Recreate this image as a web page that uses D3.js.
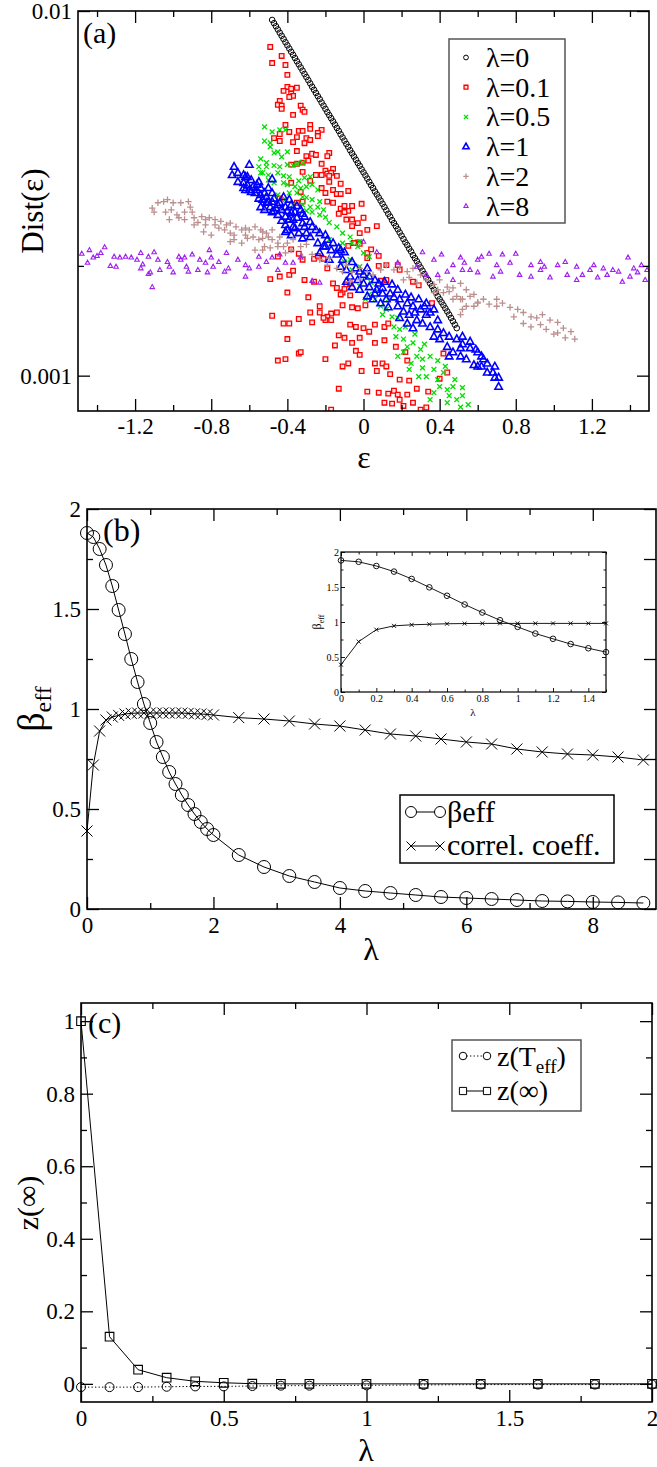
<!DOCTYPE html>
<html>
<head>
<meta charset="utf-8">
<script src="https://cdn.jsdelivr.net/npm/d3@7"></script>
<style>
  html, body { margin: 0; padding: 0; background: #fff; }
  svg { display: block; }
  svg text { font-family: "Liberation Serif", "Times New Roman", Times, serif !important; }
</style>
</head>
<body>
<script>
// ---------------- Panel (a): Dist(eps) scatter for several lambda ----------------
const lam0Eps = [-0.48,-0.47,-0.46,-0.45,-0.44,-0.43,-0.42,-0.41,-0.40,-0.39,
  -0.38,-0.37,-0.36,-0.35,-0.34,-0.33,-0.32,-0.31,-0.30,-0.29,
  -0.28,-0.27,-0.26,-0.25,-0.24,-0.23,-0.22,-0.21,-0.20,-0.19,
  -0.18,-0.17,-0.16,-0.15,-0.14,-0.13,-0.12,-0.11,-0.10,-0.09,
  -0.08,-0.07,-0.06,-0.05,-0.04,-0.03,-0.02,-0.01,0.00,0.01,
  0.02,0.03,0.04,0.05,0.06,0.07,0.08,0.09,0.10,0.11,
  0.12,0.13,0.14,0.15,0.16,0.17,0.18,0.19,0.20,0.21,
  0.22,0.23,0.24,0.25,0.26,0.27,0.28,0.29,0.30,0.31,
  0.32,0.33,0.34,0.35,0.36,0.37,0.38,0.39,0.40,0.41,
  0.42,0.43,0.44,0.45,0.46,0.47,0.48,0.49];
const lam0Dist = [0.00945,0.00926,0.00908,0.00890,0.00872,0.00855,0.00838,0.00821,0.00805,0.00789,
  0.00773,0.00758,0.00743,0.00728,0.00714,0.00700,0.00686,0.00672,0.00659,0.00646,
  0.00633,0.00620,0.00608,0.00596,0.00584,0.00573,0.00561,0.00550,0.00539,0.00528,
  0.00518,0.00508,0.00498,0.00488,0.00478,0.00469,0.00459,0.00450,0.00441,0.00432,
  0.00424,0.00415,0.00407,0.00399,0.00391,0.00383,0.00376,0.00368,0.00361,0.00354,
  0.00347,0.00340,0.00333,0.00327,0.00320,0.00314,0.00308,0.00302,0.00296,0.00290,
  0.00284,0.00278,0.00273,0.00267,0.00262,0.00257,0.00252,0.00247,0.00242,0.00237,
  0.00232,0.00228,0.00223,0.00219,0.00214,0.00210,0.00206,0.00202,0.00198,0.00194,
  0.00190,0.00186,0.00183,0.00179,0.00176,0.00172,0.00169,0.00165,0.00162,0.00159,
  0.00156,0.00153,0.00150,0.00147,0.00144,0.00141,0.00138,0.00135];

const lam01 = [[-0.49,0.00797],[-0.43,0.00753],[-0.48,0.00720],[-0.41,0.00711],[-0.40,0.00668],[-0.40,0.00619],[-0.38,0.00612],[-0.35,0.00616],[-0.42,0.00604],[-0.38,0.00593],[-0.37,0.00585],[-0.39,0.00581],[-0.44,0.00567],[-0.45,0.00553],[-0.43,0.00550],[-0.43,0.00539],[-0.33,0.00550],[-0.32,0.00536],[-0.31,0.00529],[-0.37,0.00519],[-0.41,0.00487],[-0.28,0.00487],[-0.28,0.00475],[-0.34,0.00469],[-0.32,0.00469],[-0.22,0.00472],[-0.44,0.00460],[-0.35,0.00451],[-0.47,0.00448],[-0.39,0.00466],[-0.24,0.00463],[-0.24,0.00454],[-0.30,0.00448],[-0.28,0.00443],[-0.37,0.00437],[-0.31,0.00434],[-0.35,0.00413],[-0.27,0.00406],[-0.25,0.00403],[-0.30,0.00400],[-0.29,0.00389],[-0.18,0.00408],[-0.19,0.00400],[-0.22,0.00381],[-0.32,0.00384],[-0.35,0.00381],[-0.38,0.00379],[-0.32,0.00362],[-0.16,0.00369],[-0.20,0.00365],[-0.19,0.00358],[-0.17,0.00360],[-0.14,0.00353],[-0.18,0.00353],[-0.25,0.00355],[-0.22,0.00355],[-0.28,0.00342],[-0.12,0.00336],[-0.18,0.00340],[-0.22,0.00327],[-0.16,0.00323],[-0.14,0.00315],[-0.12,0.00315],[-0.08,0.00321],[-0.20,0.00317],[-0.19,0.00300],[-0.16,0.00298],[-0.12,0.00287],[-0.10,0.00292],[-0.08,0.00283],[-0.10,0.00281],[-0.01,0.00296],[-0.33,0.00319],[-0.32,0.00300],[-0.35,0.00298],[-0.44,0.00306],[-0.06,0.00292],[-0.13,0.00278],[-0.09,0.00268],[-0.06,0.00268],[-0.03,0.00262],[-0.06,0.00257],[0.00,0.00271],[0.02,0.00251],[0.07,0.00257],[-0.02,0.00246],[-0.03,0.00232],[-0.02,0.00230],[-0.05,0.00231],[-0.08,0.00227],[0.02,0.00217],[0.04,0.00222],[0.08,0.00213],[0.12,0.00201],[0.08,0.00200],[0.02,0.00210],[-0.38,0.00222],[-0.34,0.00216],[-0.32,0.00208],[-0.26,0.00209],[-0.24,0.00213],[-0.21,0.00209],[-0.19,0.00197],[-0.49,0.00184],[-0.44,0.00187],[-0.39,0.00189],[-0.37,0.00194],[-0.31,0.00183],[-0.26,0.00181],[-0.16,0.00179],[-0.14,0.00174],[-0.09,0.00178],[-0.11,0.00169],[-0.07,0.00166],[-0.12,0.00167],[-0.10,0.00173],[-0.07,0.00179],[0.18,0.00201],[0.19,0.00195],[0.26,0.00181],[0.29,0.00177],[0.36,0.00158],[0.09,0.00182],[0.12,0.00183],[-0.40,0.00169],[-0.29,0.00164],[-0.23,0.00155],[-0.28,0.00149],[-0.17,0.00148],[-0.19,0.00145],[-0.17,0.00142],[-0.14,0.00149],[-0.11,0.00156],[-0.06,0.00154],[-0.03,0.00153],[0.01,0.00156],[-0.48,0.00146],[-0.42,0.00139],[-0.39,0.00139],[-0.34,0.00143],[-0.27,0.00140],[-0.20,0.00142],[-0.07,0.00138],[-0.04,0.00136],[0.00,0.00135],[0.03,0.00132],[0.06,0.00138],[0.11,0.00136],[0.13,0.00139],[-0.13,0.00129],[-0.10,0.00127],[-0.15,0.00121],[-0.02,0.00127],[-0.06,0.00123],[-0.04,0.00117],[-0.02,0.00114],[0.06,0.00123],[0.11,0.00125],[0.17,0.00120],[0.22,0.00116],[0.23,0.00110],[-0.40,0.00126],[-0.34,0.00115],[-0.33,0.00116],[-0.45,0.00110],[-0.41,0.00111],[-0.20,0.00111],[-0.11,0.00106],[-0.08,0.00108],[-0.01,0.00103],[0.06,0.00108],[0.07,0.00103],[0.10,0.00108],[0.12,0.00106],[0.14,0.00101],[0.19,0.000975],[-0.13,0.000921],[0.02,0.000904],[0.08,0.000898],[0.13,0.000893],[0.16,0.000909],[0.18,0.000887],[0.19,0.000859],[0.11,0.000843],[0.15,0.000838],[0.23,0.000887],[0.28,0.000921],[0.24,0.000969],[-0.17,0.000807],[0.33,0.000818],[0.34,0.000904],[0.40,0.000981],[0.42,0.00115],[0.44,0.00102],[-0.45,0.00212],[0.21,0.000826],[0.26,0.000843],[0.30,0.000807],[-0.23,0.00149],[-0.21,0.00144],[-0.44,0.00440],[-0.38,0.00338]];

const lam05 = [[-0.52,0.00481],[-0.48,0.00466],[-0.44,0.00472],[-0.41,0.00472],[-0.52,0.00440],[-0.49,0.00435],[-0.49,0.00424],[-0.47,0.00408],[-0.43,0.00398],[-0.40,0.00411],[-0.45,0.00411],[-0.54,0.00393],[-0.51,0.00384],[-0.55,0.00374],[-0.51,0.00374],[-0.47,0.00377],[-0.44,0.00374],[-0.40,0.00379],[-0.37,0.00377],[-0.35,0.00381],[-0.32,0.00384],[-0.53,0.00360],[-0.50,0.00355],[-0.45,0.00360],[-0.42,0.00353],[-0.39,0.00351],[-0.34,0.00342],[-0.31,0.00349],[-0.28,0.00351],[-0.42,0.00338],[-0.40,0.00334],[-0.36,0.00330],[-0.33,0.00327],[-0.30,0.00330],[-0.27,0.00334],[-0.24,0.00323],[-0.39,0.00317],[-0.35,0.00317],[-0.32,0.00309],[-0.30,0.00308],[-0.27,0.00304],[-0.23,0.00300],[-0.37,0.00294],[-0.32,0.00294],[-0.28,0.00290],[-0.24,0.00290],[-0.21,0.00285],[-0.30,0.00283],[-0.27,0.00281],[-0.23,0.00276],[-0.50,0.00344],[-0.47,0.00338],[-0.45,0.00313],[-0.41,0.00304],[-0.54,0.00360],[-0.20,0.00272],[-0.18,0.00263],[-0.14,0.00256],[-0.11,0.00246],[-0.07,0.00240],[-0.11,0.00231],[-0.06,0.00231],[-0.03,0.00226],[-0.02,0.00233],[0.00,0.00217],[0.03,0.00212],[-0.07,0.00208],[-0.02,0.00199],[0.02,0.00187],[-0.02,0.00176],[0.03,0.00167],[0.06,0.00162],[0.09,0.00155],[0.12,0.00152],[0.10,0.00147],[0.15,0.00145],[0.16,0.00136],[0.19,0.00134],[0.17,0.00128],[0.21,0.00126],[0.23,0.00120],[0.26,0.00123],[0.30,0.00118],[0.28,0.00113],[0.31,0.00111],[0.35,0.00113],[0.25,0.00108],[0.31,0.00105],[0.37,0.00104],[0.33,0.000994],[0.39,0.000975],[0.42,0.00102],[0.40,0.000933],[0.44,0.000915],[0.47,0.000933],[0.45,0.000881],[0.49,0.000859],[0.52,0.000881],[0.51,0.000820],[0.55,0.000833],[0.37,0.000898],[0.35,0.000859],[0.21,0.00116],[0.18,0.00113],[0.24,0.00104],[0.29,0.000994],[0.44,0.000843],[-0.18,0.00236],[-0.13,0.00221],[-0.10,0.00205],[-0.06,0.00195],[0.04,0.00180],[0.08,0.00170],[0.01,0.00162],[0.13,0.00162],[0.18,0.00144],[0.22,0.00136],[0.27,0.00130],[0.32,0.00122],[0.39,0.00110],[0.43,0.00106],[0.48,0.000975],[0.52,0.000927]];

const lam1 = [[-0.68,0.00374],[-0.60,0.00379],[-0.69,0.00355],[-0.66,0.00360],[-0.63,0.00355],[-0.62,0.00351],[-0.59,0.00344],[-0.66,0.00340],[-0.63,0.00338],[-0.61,0.00334],[-0.58,0.00330],[-0.55,0.00340],[-0.62,0.00323],[-0.59,0.00319],[-0.56,0.00323],[-0.54,0.00327],[-0.52,0.00317],[-0.50,0.00327],[-0.48,0.00317],[-0.55,0.00306],[-0.53,0.00304],[-0.50,0.00300],[-0.47,0.00306],[-0.44,0.00298],[-0.42,0.00309],[-0.39,0.00304],[-0.54,0.00290],[-0.49,0.00290],[-0.46,0.00288],[-0.43,0.00285],[-0.41,0.00290],[-0.38,0.00294],[-0.45,0.00276],[-0.41,0.00273],[-0.38,0.00280],[-0.43,0.00266],[-0.41,0.00259],[-0.37,0.00268],[-0.36,0.00254],[-0.38,0.00243],[-0.41,0.00248],[-0.61,0.00351],[-0.56,0.00334],[-0.63,0.00327],[-0.60,0.00323],[-0.57,0.00317],[-0.54,0.00313],[-0.51,0.00309],[-0.48,0.00300],[-0.45,0.00294],[-0.40,0.00283],[-0.36,0.00281],[-0.33,0.00285],[-0.31,0.00273],[-0.48,0.00281],[-0.48,0.00346],[-0.51,0.00298],[-0.52,0.00285],[-0.47,0.00283],[-0.39,0.00268],[-0.35,0.00271],[-0.32,0.00262],[-0.31,0.00256],[-0.37,0.00256],[-0.40,0.00251],[-0.34,0.00246],[-0.30,0.00246],[-0.32,0.00238],[-0.27,0.00256],[-0.23,0.00246],[-0.19,0.00236],[-0.21,0.00226],[-0.17,0.00221],[-0.14,0.00215],[-0.11,0.00208],[-0.18,0.00208],[-0.12,0.00199],[-0.09,0.00195],[-0.23,0.00217],[-0.24,0.00231],[-0.28,0.00240],[-0.07,0.00187],[-0.03,0.00183],[0.00,0.00179],[0.03,0.00175],[0.07,0.00172],[0.10,0.00168],[-0.02,0.00172],[0.02,0.00165],[0.05,0.00162],[0.09,0.00158],[0.12,0.00162],[-0.06,0.00175],[-0.09,0.00181],[-0.02,0.00193],[0.03,0.00187],[0.08,0.00179],[0.10,0.00174],[0.14,0.00168],[0.16,0.00164],[0.19,0.00162],[0.23,0.00158],[0.26,0.00155],[0.30,0.00152],[0.33,0.00147],[0.18,0.00155],[0.21,0.00150],[0.24,0.00147],[0.28,0.00142],[0.31,0.00139],[0.35,0.00136],[0.23,0.00139],[0.26,0.00135],[0.19,0.00144],[0.33,0.00158],[0.37,0.00152],[0.39,0.00142],[0.39,0.00134],[0.42,0.00131],[0.45,0.00128],[0.49,0.00126],[0.52,0.00122],[0.56,0.00119],[0.60,0.00116],[0.44,0.00120],[0.47,0.00116],[0.51,0.00113],[0.54,0.00111],[0.58,0.00107],[0.60,0.00106],[0.40,0.00126],[0.37,0.00128],[0.51,0.00119],[0.45,0.00113],[0.52,0.00128],[0.56,0.00124],[0.59,0.00118],[0.62,0.00113],[0.65,0.00108],[0.68,0.00102],[0.69,0.000988],[0.71,0.000933],[0.65,0.00102],[0.62,0.00106],[0.63,0.00111],[0.69,0.00106],[0.71,0.000988],[-0.28,0.00264],[-0.25,0.00251],[-0.20,0.00243],[-0.16,0.00231],[-0.13,0.00224],[-0.10,0.00218],[-0.06,0.00205],[-0.04,0.00197],[0.00,0.00189],[0.02,0.00197],[0.06,0.00183],[0.11,0.00181],[0.15,0.00178],[0.18,0.00172],[0.22,0.00167],[0.25,0.00164],[0.29,0.00162],[0.32,0.00155],[0.35,0.00149],[0.27,0.00149],[0.13,0.00154],[0.06,0.00168],[-0.12,0.00221],[-0.20,0.00226],[-0.32,0.00278],[-0.35,0.00292]];

const lam2 = [[-1.11,0.00288],[-1.08,0.00298],[-1.05,0.00300],[-1.03,0.00304],[-1.00,0.00298],[-0.96,0.00298],[-0.92,0.00300],[-0.91,0.00290],[-1.10,0.00281],[-1.04,0.00281],[-1.01,0.00285],[-0.98,0.00276],[-0.94,0.00281],[-0.90,0.00281],[-1.02,0.00268],[-0.97,0.00271],[-0.94,0.00268],[-0.89,0.00271],[-0.85,0.00273],[-0.83,0.00268],[-0.81,0.00271],[-0.78,0.00268],[-0.87,0.00263],[-0.83,0.00259],[-0.78,0.00259],[-0.75,0.00265],[-0.72,0.00259],[-0.70,0.00262],[-0.67,0.00256],[-0.64,0.00251],[-0.62,0.00254],[-0.60,0.00251],[-0.57,0.00256],[-0.54,0.00251],[-0.73,0.00251],[-0.70,0.00246],[-0.68,0.00243],[-0.62,0.00243],[-0.61,0.00238],[-0.58,0.00240],[-0.55,0.00236],[-0.53,0.00238],[-0.50,0.00240],[-0.48,0.00236],[-0.45,0.00231],[-0.42,0.00226],[-0.52,0.00226],[-0.49,0.00224],[-0.57,0.00221],[-0.41,0.00217],[-0.68,0.00236],[-0.80,0.00243],[-0.84,0.00248],[-0.89,0.00259],[-0.76,0.00254],[-0.70,0.00233],[-0.64,0.00231],[-0.53,0.00248],[-0.51,0.00246],[-0.48,0.00251],[-0.44,0.00240],[-0.53,0.00221],[-0.45,0.00226],[-0.40,0.00231],[-0.37,0.00236],[-0.38,0.00221],[-0.33,0.00226],[-0.30,0.00229],[-0.27,0.00215],[-0.32,0.00212],[-0.23,0.00208],[-0.18,0.00210],[-0.19,0.00201],[-0.14,0.00197],[-0.11,0.00193],[-0.09,0.00201],[-0.06,0.00192],[-0.02,0.00197],[0.02,0.00193],[0.05,0.00189],[-0.07,0.00181],[-0.02,0.00183],[0.09,0.00195],[0.12,0.00201],[0.16,0.00195],[0.19,0.00199],[0.23,0.00193],[0.26,0.00197],[0.30,0.00189],[0.33,0.00183],[0.37,0.00178],[0.40,0.00183],[0.44,0.00175],[0.47,0.00174],[0.51,0.00179],[0.54,0.00172],[0.58,0.00167],[0.60,0.00158],[0.51,0.00162],[0.54,0.00155],[0.47,0.00162],[0.37,0.00169],[0.28,0.00180],[0.21,0.00183],[0.24,0.00186],[0.39,0.00172],[0.42,0.00169],[0.45,0.00170],[0.49,0.00165],[0.52,0.00162],[0.56,0.00165],[0.60,0.00159],[0.63,0.00162],[0.66,0.00157],[0.70,0.00155],[0.73,0.00158],[0.77,0.00154],[0.81,0.00152],[0.84,0.00149],[0.88,0.00145],[0.91,0.00144],[0.94,0.00147],[0.98,0.00142],[1.02,0.00140],[1.05,0.00135],[1.09,0.00132],[0.93,0.00138],[0.96,0.00134],[1.00,0.00130],[0.88,0.00136],[0.84,0.00139],[0.52,0.00152],[0.58,0.00155],[0.70,0.00162],[0.79,0.00145],[0.51,0.00147],[1.06,0.00127],[1.11,0.00126],[1.02,0.00131]];

const lam8 = [[-1.48,0.00216],[-1.44,0.00221],[-1.40,0.00213],[-1.38,0.00217],[-1.36,0.00225],[-1.45,0.00204],[-1.42,0.00211],[-1.33,0.00200],[-1.31,0.00212],[-1.28,0.00211],[-1.25,0.00212],[-1.30,0.00199],[-1.22,0.00211],[-1.19,0.00208],[-1.17,0.00217],[-1.16,0.00202],[-1.17,0.00197],[-1.13,0.00212],[-1.12,0.00192],[-1.10,0.00218],[-1.08,0.00208],[-1.07,0.00195],[-1.11,0.00175],[-1.03,0.00205],[-1.02,0.00199],[-1.00,0.00192],[-0.97,0.00212],[-0.96,0.00208],[-0.94,0.00211],[-0.93,0.00199],[-0.92,0.00193],[-0.90,0.00215],[-0.87,0.00195],[-0.86,0.00208],[-0.83,0.00204],[-0.82,0.00192],[-0.81,0.00221],[-0.80,0.00211],[-0.79,0.00199],[-0.76,0.00205],[-0.73,0.00193],[-0.72,0.00217],[-0.71,0.00197],[-0.66,0.00208],[-0.62,0.00201],[-0.62,0.00187],[-0.60,0.00197],[-0.55,0.00212],[-0.55,0.00199],[-0.51,0.00205],[-0.48,0.00211],[-0.45,0.00195],[-0.44,0.00215],[-0.41,0.00204],[-0.37,0.00204],[-0.33,0.00211],[-0.27,0.00182],[-0.23,0.00180],[0.00,0.00233],[0.07,0.00218],[0.18,0.00204],[0.28,0.00199],[0.31,0.00218],[0.33,0.00189],[0.37,0.00208],[0.41,0.00215],[0.44,0.00193],[0.47,0.00201],[0.51,0.00211],[0.52,0.00195],[0.53,0.00204],[0.60,0.00208],[0.62,0.00212],[0.66,0.00216],[0.73,0.00215],[0.80,0.00216],[0.70,0.00201],[0.77,0.00204],[0.88,0.00201],[0.93,0.00205],[0.95,0.00199],[1.02,0.00201],[1.06,0.00205],[1.12,0.00199],[1.21,0.00201],[1.26,0.00197],[1.31,0.00195],[1.34,0.00193],[1.39,0.00211],[1.42,0.00197],[1.46,0.00201],[1.49,0.00195],[0.47,0.00183],[0.60,0.00192],[0.68,0.00187],[0.72,0.00193],[0.82,0.00189],[0.88,0.00187],[0.93,0.00195],[0.98,0.00186],[1.07,0.00189],[1.12,0.00183],[1.15,0.00189],[1.19,0.00195],[1.23,0.00186],[1.28,0.00189],[1.36,0.00181],[1.40,0.00187],[1.44,0.00192],[1.48,0.00183],[0.39,0.00189],[0.56,0.00195],[-1.13,0.00190]];

const legendA = ["λ=0", "λ=0.1", "λ=0.5", "λ=1", "λ=2", "λ=8"];
const epsTicks = [-1.2, -0.8, -0.4, 0, 0.4, 0.8, 1.2];
const epsMinor = [-1.4, -1.0, -0.6, -0.2, 0.2, 0.6, 1.0, 1.4];
const distTicks = [0.001, 0.01];
const distMinor = [0.002];

// ---------------- Panel (b): beta_eff and correlation coefficient vs lambda ----------------
const lambdaB = [0,0.1,0.2,0.3,0.4,0.5,0.6,0.7,0.8,0.9,1.0,1.1,1.2,1.3,1.4,1.5,1.6,1.7,1.8,1.9,2.0,
  2.4,2.8,3.2,3.6,4.0,4.4,4.8,5.2,5.6,6.0,6.4,6.8,7.2,7.6,8.0,8.4,8.8];
const betaEff = [1.88,1.86,1.80,1.72,1.615,1.495,1.375,1.25,1.135,1.025,0.93,0.835,0.76,0.685,0.625,0.57,0.52,0.475,0.435,0.40,0.37,
  0.27,0.21,0.165,0.135,0.105,0.09,0.08,0.07,0.06,0.055,0.05,0.045,0.04,0.038,0.035,0.033,0.03];
const correlCoeff = [0.39,0.72,0.89,0.945,0.96,0.968,0.975,0.978,0.98,0.98,0.98,0.98,0.98,0.98,0.98,0.98,0.978,0.976,0.975,0.973,0.97,
  0.957,0.95,0.94,0.925,0.915,0.895,0.875,0.865,0.85,0.835,0.825,0.80,0.785,0.775,0.77,0.76,0.745];
const lamTicksB = [0, 2, 4, 6, 8];
const lamMinorB = [1, 3, 5, 7];
const betaTicks = [0, 0.5, 1, 1.5, 2];
const betaMinor = [0.25, 0.75, 1.25, 1.75];
// inset: the first part of the same series (lambda <= 1.5)
const insetCount = 16;
const insetLamTicks = [0, 0.2, 0.4, 0.6, 0.8, 1, 1.2, 1.4];
const insetLamMinor = [0.1, 0.3, 0.5, 0.7, 0.9, 1.1, 1.3, 1.5];
const insetBetaTicks = [0, 0.5, 1, 1.5, 2];
const insetBetaMinor = [0.25, 0.75, 1.25, 1.75];

// ---------------- Panel (c): z(T_eff) and z(inf) vs lambda ----------------
const lambdaC = [0,0.1,0.2,0.3,0.4,0.5,0.6,0.7,0.8,1.0,1.2,1.4,1.6,1.8,2.0];
const zTeff = [-0.009,-0.009,-0.009,-0.008,-0.007,-0.007,-0.006,-0.005,-0.005,-0.004,-0.003,-0.002,-0.002,-0.002,-0.002];
const zInf = [1.0,0.13,0.039,0.017,0.007,0.003,0.0005,0.0,0.0,0.0,0.0,0.0,0.0,0.0,0.0];
const lamTicksC = [0, 0.5, 1, 1.5, 2];
const lamMinorC = [0.25, 0.75, 1.25, 1.75];
const zTicks = [0, 0.2, 0.4, 0.6, 0.8, 1];
const zMinor = [0.1, 0.3, 0.5, 0.7, 0.9];

// ---------------- drawing ----------------
const W = 657, H = 1467;
const FONT = "Liberation Serif, Times New Roman, Times, serif";
const svg = d3.select("body").append("svg").attr("width", W).attr("height", H)
  .attr("font-family", FONT);
svg.append("rect").attr("width", W).attr("height", H).attr("fill", "#fff");

function addAxis(g, gen, tr, values, len, fmt, pad, fs, sw) {
  const a = gen.tickValues(values).tickSizeInner(-len).tickSizeOuter(0)
    .tickPadding(pad).tickFormat(fmt || (() => ""));
  const s = g.append("g").attr("transform", tr).call(a);
  s.attr("font-family", FONT).attr("font-size", fs || 10);
  s.select(".domain").remove();
  s.selectAll("line").attr("stroke", "#000").attr("stroke-width", sw || 1.3);
  s.selectAll("text").attr("fill", "#000");
  return s;
}

function frameAxes(g, x, y, o) {
  const [x0, x1] = x.range();
  const [yb, yt] = y.range();
  const fs = o.fs, maj = o.maj, mn = o.min, sw = o.sw;
  addAxis(g, d3.axisBottom(x), `translate(0,${yb})`, o.xMaj, maj, o.xFmt, o.padX, fs, sw);
  addAxis(g, d3.axisBottom(x), `translate(0,${yb})`, o.xMin, mn, null, 0, fs, sw);
  addAxis(g, d3.axisTop(x), `translate(0,${yt})`, o.xMaj, maj, null, 0, fs, sw);
  addAxis(g, d3.axisTop(x), `translate(0,${yt})`, o.xMin, mn, null, 0, fs, sw);
  addAxis(g, d3.axisLeft(y), `translate(${x0},0)`, o.yMaj, maj, o.yFmt, o.padY, fs, sw);
  addAxis(g, d3.axisLeft(y), `translate(${x0},0)`, o.yMin, mn, null, 0, fs, sw);
  addAxis(g, d3.axisRight(y), `translate(${x1},0)`, o.yMaj, maj, null, 0, fs, sw);
  addAxis(g, d3.axisRight(y), `translate(${x1},0)`, o.yMin, o.rightMin || mn, null, 0, fs, sw);
  g.append("rect").attr("x", x0).attr("y", yt).attr("width", x1 - x0).attr("height", yb - yt)
    .attr("fill", "none").attr("stroke", "#000").attr("stroke-width", o.frame || 1.6);
}

// marker shapes
const markers = {
  circle: r => `M${-r},0a${r},${r} 0 1,0 ${2 * r},0a${r},${r} 0 1,0 ${-2 * r},0Z`,
  square: h => `M${-h},${-h}h${2 * h}v${2 * h}h${-2 * h}Z`,
  xcross: h => `M${-h},${-h}L${h},${h}M${-h},${h}L${h},${-h}`,
  plus: h => `M${-h},0H${h}M0,${-h}V${h}`,
  tri: h => `M0,${-h}L${h * 0.9},${h * 0.62}L${-h * 0.9},${h * 0.62}Z`
};

function scatter(g, data, x, y, shape, size, color, sw, fill) {
  g.append("g").selectAll("path").data(data).join("path")
    .attr("transform", d => `translate(${x(d[0])},${y(d[1])})`)
    .attr("d", markers[shape](size))
    .attr("fill", fill || "none").attr("stroke", color).attr("stroke-width", sw);
}

// ===== Panel (a) =====
const xA = d3.scaleLinear().domain([-1.5, 1.5]).range([78, 649]);
const yA = d3.scaleLog().domain([0.0008, 0.01]).range([411, 11]);
const gA = svg.append("g");
svg.append("clipPath").attr("id", "clipA").append("rect")
  .attr("x", 78).attr("y", 11).attr("width", 571).attr("height", 400);
const ptsA = gA.append("g").attr("clip-path", "url(#clipA)");

const seriesA = [
  { data: lam0Eps.map((e, i) => [e, lam0Dist[i]]), shape: "circle", size: 2.8, color: "#000000", sw: 1 },
  { data: lam01, shape: "square", size: 2.3, color: "#ff0000", sw: 1.3, fill: "#ffe4e4" },
  { data: lam05, shape: "xcross", size: 2.4, color: "#00e000", sw: 1.3 },
  { data: lam1, shape: "tri", size: 4.1, color: "#0000ff", sw: 1.6 },
  { data: lam2, shape: "plus", size: 3.2, color: "#bc8f8f", sw: 1.3 },
  { data: lam8, shape: "tri", size: 2.5, color: "#a020f0", sw: 1.1 }
];
seriesA.forEach(s => scatter(ptsA, s.data, xA, yA, s.shape, s.size, s.color, s.sw, s.fill));

frameAxes(gA, xA, yA, {
  xMaj: epsTicks, xMin: epsMinor, yMaj: distTicks, yMin: distMinor,
  xFmt: d => d === 0 ? "0" : d.toFixed(1), yFmt: d => d === 0.01 ? "0.01" : "0.001",
  padX: 7, padY: 6, fs: 23, maj: 12, min: 6
});

// legend (a)
const legA = gA.append("g");
legA.append("rect").attr("x", 449).attr("y", 39).attr("width", 116).attr("height", 184)
  .attr("fill", "#fff").attr("stroke", "#555").attr("stroke-width", 1.5);
seriesA.forEach((s, i) => {
  const yy = 57.5 + i * 29.7;
  legA.append("path").attr("transform", `translate(466,${yy})`)
    .attr("d", markers[s.shape](i === 5 ? 2.3 : s.size * 0.85))
    .attr("fill", s.fill || "none").attr("stroke", s.color).attr("stroke-width", s.sw);
  legA.append("text").attr("x", 486).attr("y", yy + 9.5).attr("font-size", 28).text(legendA[i]);
});

gA.append("text").attr("x", 83).attr("y", 43).attr("font-size", 30).text("(a)");
gA.append("text").attr("x", 364).attr("y", 468).attr("text-anchor", "middle").attr("font-size", 32).text("ε");
gA.append("text").attr("transform", "translate(43,211) rotate(-90)").attr("text-anchor", "middle")
  .attr("font-size", 31).text("Dist(ε)");

// ===== Panel (b) =====
const xB = d3.scaleLinear().domain([0, 9]).range([87, 656]);
const yB = d3.scaleLinear().domain([0, 2]).range([909, 509]);
const gB = svg.append("g");
const rowsB = lambdaB.map((l, i) => ({ l, b: betaEff[i], c: correlCoeff[i] }));
const lineB = key => d3.line().x(d => xB(d.l)).y(d => yB(d[key]));
gB.append("path").datum(rowsB).attr("d", lineB("c")).attr("fill", "none").attr("stroke", "#000").attr("stroke-width", 1);
gB.append("path").datum(rowsB).attr("d", lineB("b")).attr("fill", "none").attr("stroke", "#000").attr("stroke-width", 1);
scatter(gB, rowsB.map(d => [d.l, d.c]), xB, yB, "xcross", 5.5, "#000", 1);
scatter(gB, rowsB.map(d => [d.l, d.b]), xB, yB, "circle", 6.5, "#000", 1);

frameAxes(gB, xB, yB, {
  xMaj: lamTicksB, xMin: lamMinorB, yMaj: betaTicks, yMin: betaMinor,
  xFmt: d => String(d), yFmt: d => String(d),
  padX: 8, padY: 6, fs: 23, maj: 12, min: 6, rightMin: 12
});

// inset
const xI = d3.scaleLinear().domain([0, 1.5]).range([341, 606]);
const yI = d3.scaleLinear().domain([0, 2]).range([692, 552]);
const gI = gB.append("g");
gI.append("rect").attr("x", 341).attr("y", 552).attr("width", 265).attr("height", 140).attr("fill", "#fff");
const rowsI = rowsB.slice(0, insetCount);
const lineI = key => d3.line().x(d => xI(d.l)).y(d => yI(d[key]));
gI.append("path").datum(rowsI).attr("d", lineI("b")).attr("fill", "none").attr("stroke", "#000").attr("stroke-width", 0.9);
gI.append("path").datum(rowsI).attr("d", lineI("c")).attr("fill", "none").attr("stroke", "#000").attr("stroke-width", 0.9);
scatter(gI, rowsI.map(d => [d.l, d.b]), xI, yI, "circle", 2.8, "#000", 0.9);
scatter(gI, rowsI.map(d => [d.l, d.c]), xI, yI, "xcross", 2, "#000", 0.9);
frameAxes(gI, xI, yI, {
  xMaj: insetLamTicks, xMin: insetLamMinor, yMaj: insetBetaTicks, yMin: insetBetaMinor,
  xFmt: d => String(d), yFmt: d => String(d),
  padX: 3, padY: 2, fs: 10, maj: 4, min: 2.5, sw: 0.9, frame: 1.2
});
gI.append("text").attr("x", 473).attr("y", 716).attr("text-anchor", "middle").attr("font-size", 11).text("λ");
const iLab = gI.append("text").attr("transform", "translate(321,622) rotate(-90)").attr("text-anchor", "middle");
iLab.append("tspan").attr("font-size", 12).text("β");
iLab.append("tspan").attr("font-size", 8).attr("dy", 3).text("eff");

// legend (b)
const legB = gB.append("g");
legB.append("rect").attr("x", 400).attr("y", 795).attr("width", 214).attr("height", 68)
  .attr("fill", "#fff").attr("stroke", "#000").attr("stroke-width", 1.5);
legB.append("line").attr("x1", 411).attr("x2", 440).attr("y1", 812).attr("y2", 812).attr("stroke", "#000");
legB.append("path").attr("transform", "translate(411,812)").attr("d", markers.circle(5.5)).attr("fill", "#fff").attr("stroke", "#000");
legB.append("path").attr("transform", "translate(440,812)").attr("d", markers.circle(5.5)).attr("fill", "#fff").attr("stroke", "#000");
legB.append("text").attr("x", 447).attr("y", 822).attr("font-size", 30).text("βeff");
legB.append("line").attr("x1", 411).attr("x2", 440).attr("y1", 846).attr("y2", 846).attr("stroke", "#000");
legB.append("path").attr("transform", "translate(411,846)").attr("d", markers.xcross(4.5)).attr("fill", "none").attr("stroke", "#000");
legB.append("path").attr("transform", "translate(440,846)").attr("d", markers.xcross(4.5)).attr("fill", "none").attr("stroke", "#000");
legB.append("text").attr("x", 447).attr("y", 855).attr("font-size", 30).text("correl. coeff.");

gB.append("text").attr("x", 103).attr("y", 541).attr("font-size", 32).text("(b)");
gB.append("text").attr("x", 371).attr("y", 960).attr("text-anchor", "middle").attr("font-size", 32).text("λ");
const bLab = gB.append("text").attr("transform", "translate(44,709) rotate(-90)").attr("text-anchor", "middle");
bLab.append("tspan").attr("font-size", 38).text("β");
bLab.append("tspan").attr("font-size", 24).attr("dy", 7).text("eff");

// ===== Panel (c) =====
const xC = d3.scaleLinear().domain([0, 2]).range([81, 652]);
const yC = d3.scaleLinear().domain([-0.05, 1.05]).range([1402, 1003]);
const gC = svg.append("g");
const rowsC = lambdaC.map((l, i) => ({ l, t: zTeff[i], z: zInf[i] }));
gC.append("path").datum(rowsC).attr("d", d3.line().x(d => xC(d.l)).y(d => yC(d.t)))
  .attr("fill", "none").attr("stroke", "#000").attr("stroke-width", 1).attr("stroke-dasharray", "1.3,2.2");
gC.append("path").datum(rowsC).attr("d", d3.line().x(d => xC(d.l)).y(d => yC(d.z)))
  .attr("fill", "none").attr("stroke", "#000").attr("stroke-width", 1);
scatter(gC, rowsC.map(d => [d.l, d.t]), xC, yC, "circle", 4.5, "#000", 1);
scatter(gC, rowsC.map(d => [d.l, d.z]), xC, yC, "square", 4.3, "#000", 1.1);

frameAxes(gC, xC, yC, {
  xMaj: lamTicksC, xMin: lamMinorC, yMaj: zTicks, yMin: zMinor,
  xFmt: d => String(d), yFmt: d => String(d),
  padX: 8, padY: 6, fs: 23, maj: 12, min: 6
});

// legend (c)
const legC = gC.append("g");
legC.append("rect").attr("x", 452).attr("y", 1040).attr("width", 129).attr("height", 71)
  .attr("fill", "#fff").attr("stroke", "#555").attr("stroke-width", 1.5);
legC.append("line").attr("x1", 463).attr("x2", 487).attr("y1", 1056).attr("y2", 1056)
  .attr("stroke", "#000").attr("stroke-dasharray", "1.3,2.2");
[463, 487].forEach(cx => legC.append("path").attr("transform", `translate(${cx},1056)`)
  .attr("d", markers.circle(3.8)).attr("fill", "#fff").attr("stroke", "#000"));
const tL = legC.append("text").attr("x", 497).attr("y", 1066).attr("font-size", 28);
tL.append("tspan").text("z(T");
tL.append("tspan").attr("font-size", 19).attr("dy", 7).text("eff");
tL.append("tspan").attr("dy", -7).text(")");
legC.append("line").attr("x1", 463).attr("x2", 487).attr("y1", 1091).attr("y2", 1091).attr("stroke", "#000");
[463, 487].forEach(cx => legC.append("path").attr("transform", `translate(${cx},1091)`)
  .attr("d", markers.square(3.6)).attr("fill", "#fff").attr("stroke", "#000"));
legC.append("text").attr("x", 497).attr("y", 1100).attr("font-size", 28).text("z(∞)");

gC.append("text").attr("x", 88).attr("y", 1033).attr("font-size", 30).text("(c)");
gC.append("text").attr("x", 366).attr("y", 1461).attr("text-anchor", "middle").attr("font-size", 32).text("λ");
gC.append("text").attr("transform", "translate(38,1203) rotate(-90)").attr("text-anchor", "middle")
  .attr("font-size", 30).text("z(∞)");
</script>
</body>
</html>
